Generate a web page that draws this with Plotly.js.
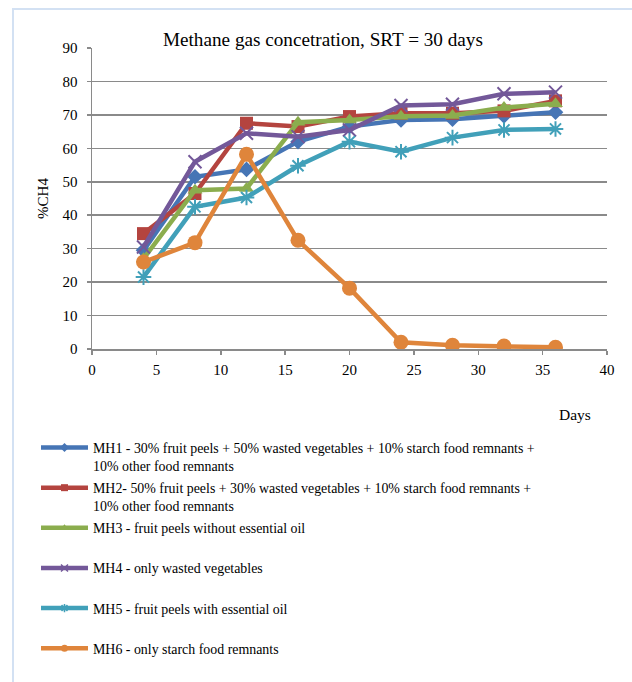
<!DOCTYPE html>
<html>
<head>
<meta charset="utf-8">
<script src="https://cdn.plot.ly/plotly-3.0.1.min.js"></script>
<style>
  html, body { margin: 0; padding: 0; background: #ffffff; }
  #chart { width: 632px; height: 682px; }
</style>
</head>
<body>
<div id="chart"></div>
<script>
// Sampling days
const days = [4, 8, 12, 16, 20, 24, 28, 32, 36];

// Methane content (%CH4) for each mixture
const mh1 = [29.5, 51.5, 53.7, 62.0, 66.5, 68.5, 68.7, 69.7, 70.8];
const mh2 = [34.5, 46.5, 67.5, 66.5, 69.5, 70.5, 70.5, 71.2, 74.2];
const mh3 = [27.0, 47.5, 48.0, 67.8, 68.5, 69.6, 69.8, 72.2, 73.3];
const mh4 = [30.5, 56.0, 64.5, 63.5, 65.5, 72.8, 73.2, 76.3, 76.8];
const mh5 = [21.5, 42.5, 45.3, 54.8, 62.0, 59.0, 63.2, 65.5, 65.8];
const mh6 = [26.0, 31.8, 58.2, 32.5, 18.2, 2.0, 1.1, 0.9, 0.5];

const seriesNames = [
  'MH1 - 30% fruit peels + 50% wasted vegetables + 10% starch food remnants +<br>10% other food remnants',
  'MH2- 50% fruit peels + 30% wasted vegetables + 10% starch food remnants +<br>10% other food remnants',
  'MH3 - fruit peels without essential oil<br> ',
  'MH4 - only wasted vegetables<br> ',
  'MH5 - fruit peels with essential oil<br> ',
  'MH6 - only starch food remnants<br> '
];

const yTicks = [0, 10, 20, 30, 40, 50, 60, 70, 80, 90];
const xTicks = [0, 5, 10, 15, 20, 25, 30, 35, 40];

const serif = 'Liberation Serif, Times New Roman, serif';
const gridGray = '#8a8a8a';

const styles = [
  { color: '#4675b5', symbol: 'diamond', size: 12, mlw: 0 },
  { color: '#b4443f', symbol: 'square', size: 13, mlw: 0 },
  { color: '#8bad4e', symbol: 'triangle-up', size: 13, mlw: 0 },
  { color: '#735899', symbol: 'x-thin-open', size: 13, mlw: 2 },
  { color: '#41a0b9', symbol: 'asterisk-open', size: 13, mlw: 2 },
  { color: '#df853b', symbol: 'circle', size: 15, mlw: 0 }
];
const values = [mh1, mh2, mh3, mh4, mh5, mh6];

// Plotted series (kept out of the legend; the legend uses small-marker keys)
const traces = values.map((y, i) => ({
  x: days, y: y, name: seriesNames[i], type: 'scatter', mode: 'lines+markers',
  showlegend: false, legendgroup: 'g' + i,
  line: { color: styles[i].color, width: 4.5 },
  marker: {
    symbol: styles[i].symbol, size: styles[i].size, color: styles[i].color,
    line: { color: styles[i].color, width: styles[i].mlw }
  }
}));

// Legend keys: thick line with a small marker in the middle
const legendKeys = values.map((y, i) => ({
  x: [null], y: [null], name: seriesNames[i], type: 'scatter', mode: 'lines+markers',
  showlegend: true, legendgroup: 'g' + i,
  line: { color: styles[i].color, width: 4.5 },
  marker: {
    symbol: styles[i].symbol, size: 7, color: styles[i].color,
    line: { color: styles[i].color, width: styles[i].mlw ? 1.5 : 0 }
  }
}));

const layout = {
  width: 632, height: 682,
  margin: { l: 92, r: 25, t: 48, b: 333 },
  paper_bgcolor: '#ffffff', plot_bgcolor: '#ffffff',
  font: { family: serif, size: 15, color: '#000000' },
  title: {
    text: 'Methane gas concetration, SRT = 30 days',
    font: { family: serif, size: 19.2, color: '#000000' },
    xref: 'container', yref: 'container',
    x: 0.511, y: 1 - 39 / 682, xanchor: 'center', yanchor: 'middle'
  },
  xaxis: {
    range: [0, 40], tickvals: xTicks, ticktext: xTicks.map(String),
    showgrid: false, zeroline: false,
    showline: true, linecolor: gridGray, linewidth: 1.5,
    ticks: 'outside', ticklen: 4, tickcolor: gridGray, tickwidth: 1.5,
    ticklabelstandoff: 2,
    tickfont: { family: serif, size: 15, color: '#000' }
  },
  yaxis: {
    range: [0, 90], tickvals: yTicks, ticktext: yTicks.map(String),
    showgrid: true, gridcolor: gridGray, gridwidth: 1.5,
    zeroline: false,
    showline: true, linecolor: gridGray, linewidth: 1.5,
    ticks: 'outside', ticklen: 4, tickcolor: gridGray, tickwidth: 1.5,
    ticklabelstandoff: 6,
    tickfont: { family: serif, size: 15, color: '#000' },
    title: { text: '%CH4', font: { family: serif, size: 15, color: '#000' }, standoff: 10 }
  },
  showlegend: true,
  legend: {
    xref: 'paper', yref: 'container',
    x: (36 - 92) / 515, y: 1 - 432 / 682, xanchor: 'left', yanchor: 'top',
    font: { family: serif, size: 13.9, color: '#000' },
    itemwidth: 47, valign: 'top', tracegroupgap: 1,
    bgcolor: 'rgba(0,0,0,0)', borderwidth: 0
  },
  annotations: [{
    text: 'Days', xref: 'paper', yref: 'paper',
    x: (575 - 92) / 515, y: (349 - 414) / 301,
    xanchor: 'center', yanchor: 'middle', showarrow: false,
    font: { family: serif, size: 15.5, color: '#000' }
  }],
  shapes: [{
    type: 'rect', xref: 'paper', yref: 'paper', layer: 'below',
    x0: (13 - 92) / 515, x1: 1.5, y0: -1.5, y1: (349 - 9) / 301,
    line: { color: '#d3e1f3', width: 2 }, fillcolor: 'rgba(0,0,0,0)'
  }]
};

Plotly.newPlot('chart', traces.concat(legendKeys), layout, { displayModeBar: false, staticPlot: true });
</script>
</body>
</html>
